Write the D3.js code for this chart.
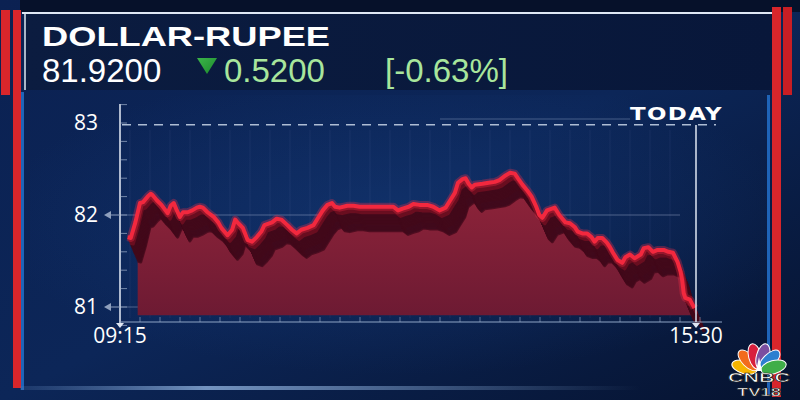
<!DOCTYPE html>
<html>
<head>
<meta charset="utf-8">
<script src="https://cdn.jsdelivr.net/npm/d3@7"></script>
<style>
  html, body { margin: 0; padding: 0; background: #071533; }
  svg { display: block; }
</style>
</head>
<body>
<div id="chart"></div>
<script>
// intraday USD/INR
const times = ["09:20","09:22","09:25","09:28","09:30","09:33","09:35","09:36","09:39","09:42",
  "09:46","09:48","09:50","09:52","09:54","09:56","09:59","10:02","10:05","10:07",
  "10:09","10:12","10:16","10:19","10:21","10:25","10:28","10:30","10:32","10:35",
  "10:38","10:41","10:44","10:47","10:49","10:54","10:57","11:00","11:04","11:07",
  "11:10","11:13","11:17","11:21","11:24","11:27","11:30","11:33","11:35","11:38",
  "11:43","11:47","11:51","11:56","12:00","12:04","12:09","12:13","12:16","12:19",
  "12:23","12:26","12:30","12:35","12:39","12:43","12:47","12:50","12:53","12:55",
  "12:58","13:00","13:02","13:04","13:06","13:11","13:15","13:19","13:22","13:26",
  "13:29","13:32","13:34","13:37","13:40","13:43","13:46","13:48","13:50","13:53",
  "13:58","14:01","14:05","14:08","14:11","14:13","14:16","14:19","14:22","14:24",
  "14:26","14:29","14:32","14:34","14:36","14:39","14:42","14:44","14:47","14:50",
  "14:54","14:56","14:59","15:02","15:05","15:09","15:12","15:15","15:18","15:20",
  "15:21","15:22","15:23","15:26","15:28","15:29"];
const rates = [81.76,81.75,81.92,82.13,82.14,82.20,82.23,82.22,82.16,82.11,
  82.02,82.10,82.13,82.05,81.98,82.03,82.03,82.05,82.08,82.09,
  82.08,82.03,81.98,81.92,81.86,81.78,81.84,81.95,81.91,81.86,
  81.73,81.71,81.76,81.82,81.89,81.92,81.96,81.95,81.89,81.84,
  81.80,81.84,81.86,81.89,81.97,82.05,82.11,82.13,82.09,82.08,
  82.10,82.10,82.09,82.09,82.09,82.09,82.09,82.09,82.05,82.07,
  82.09,82.12,82.11,82.11,82.09,82.05,82.08,82.16,82.24,82.35,
  82.39,82.40,82.34,82.30,82.33,82.34,82.35,82.36,82.38,82.43,
  82.46,82.45,82.40,82.33,82.27,82.20,82.09,82.00,81.97,82.05,
  82.08,82.00,81.92,81.91,81.87,81.82,81.80,81.80,81.76,81.71,
  81.75,81.75,81.70,81.65,81.59,81.51,81.48,81.54,81.57,81.53,
  81.57,81.64,81.65,81.60,81.62,81.62,81.60,81.59,81.49,81.38,
  81.29,81.15,81.10,81.08,81.02,80.99];

const yTicks = [81, 82, 83];
const xTicks = ["09:15", "15:30"];
const prevLevel = 82.98;     // dashed reference line
const areaBase = 80.91;

const title = "DOLLAR-RUPEE";
const lastPrice = "81.9200";
const change = "0.5200";
const changePct = "[-0.63%]";

const W = 800, H = 400;
const parseTime = d3.timeParse("%H:%M");
const data = times.map((t, i) => ({ t: parseTime(t), v: rates[i] }));

const svg = d3.select("#chart").append("svg")
  .attr("width", W).attr("height", H);
const defs = svg.append("defs");

// backgrounds
const bgGrad = defs.append("linearGradient").attr("id", "bg")
  .attr("x1", 0).attr("y1", 0).attr("x2", 1).attr("y2", 1);
bgGrad.append("stop").attr("offset", 0).attr("stop-color", "#0b2152");
bgGrad.append("stop").attr("offset", 0.5).attr("stop-color", "#0c2658");
bgGrad.append("stop").attr("offset", 1).attr("stop-color", "#061330");
svg.append("rect").attr("width", W).attr("height", H).attr("fill", "url(#bg)");

const glow = defs.append("radialGradient").attr("id", "glow")
  .attr("cx", 0.5).attr("cy", 0.45).attr("r", 0.55);
glow.append("stop").attr("offset", 0).attr("stop-color", "#153a78").attr("stop-opacity", 0.55);
glow.append("stop").attr("offset", 1).attr("stop-color", "#153a78").attr("stop-opacity", 0);
svg.append("rect").attr("x", 30).attr("y", 95).attr("width", 740).attr("height", 280)
  .attr("fill", "url(#glow)");

// header box
const hdrGrad = defs.append("linearGradient").attr("id", "hdr");
hdrGrad.append("stop").attr("offset", 0).attr("stop-color", "#0b1c40");
hdrGrad.append("stop").attr("offset", 1).attr("stop-color", "#08173a");
svg.append("rect").attr("x", 24).attr("y", 13).attr("width", 750).attr("height", 77)
  .attr("fill", "url(#hdr)");
svg.append("rect").attr("x", 20).attr("y", 0).attr("width", 780).attr("height", 12)
  .attr("fill", "#06112a");
svg.append("line").attr("x1", 22).attr("x2", 776).attr("y1", 13).attr("y2", 13)
  .attr("stroke", "#dfe8f5").attr("stroke-width", 2);
const lineGrad = defs.append("linearGradient").attr("id", "hline");
lineGrad.append("stop").attr("offset", 0).attr("stop-color", "#cdd8ea");
lineGrad.append("stop").attr("offset", 0.5).attr("stop-color", "#8fa6c8");
lineGrad.append("stop").attr("offset", 1).attr("stop-color", "#cdd8ea");
svg.append("line").attr("x1", 22).attr("x2", 776).attr("y1", 90).attr("y2", 90)
  .attr("stroke", "url(#hline)").attr("stroke-width", 1.5);
svg.append("line").attr("x1", 25).attr("x2", 25).attr("y1", 13).attr("y2", 90)
  .attr("stroke", "#dfe8f5").attr("stroke-width", 1.5);

// side bars
svg.append("rect").attr("x", 1).attr("y", 10).attr("width", 9).attr("height", 85).attr("fill", "#d8262b");
svg.append("rect").attr("x", 13).attr("y", 10).attr("width", 8).attr("height", 378).attr("fill", "#d8262b");
svg.append("rect").attr("x", 21).attr("y", 92).attr("width", 3).attr("height", 298).attr("fill", "#1f64b8");
svg.append("rect").attr("x", 772).attr("y", 7).attr("width", 9).attr("height", 390).attr("fill", "#d8262b");
svg.append("rect").attr("x", 783).attr("y", 7).attr("width", 9).attr("height", 88).attr("fill", "#c81e24");
svg.append("rect").attr("x", 767).attr("y", 95).attr("width", 3).attr("height", 300).attr("fill", "#1f64b8");

// bottom glow line
const botGrad = defs.append("linearGradient").attr("id", "bot");
botGrad.append("stop").attr("offset", 0).attr("stop-color", "#5a7fb5").attr("stop-opacity", 0.2);
botGrad.append("stop").attr("offset", 0.3).attr("stop-color", "#7fa0cc").attr("stop-opacity", 0.9);
botGrad.append("stop").attr("offset", 1).attr("stop-color", "#7fa0cc").attr("stop-opacity", 0);
svg.append("rect").attr("x", 20).attr("y", 386).attr("width", 620).attr("height", 4)
  .attr("fill", "url(#bot)");

// header text
svg.append("text").attr("x", 42).attr("y", 46)
  .attr("textLength", 288).attr("lengthAdjust", "spacingAndGlyphs")
  .style("font-family", "'Liberation Sans', Arial, sans-serif").style("font-weight", "bold")
  .style("font-size", "28px").style("fill", "#ffffff").text(title);
const numFont = "'Liberation Sans', Arial, sans-serif";
svg.append("text").attr("x", 42).attr("y", 82)
  .style("font-family", numFont).style("font-size", "33px")
  .style("fill", "#ffffff").text(lastPrice);
const triGrad = defs.append("linearGradient").attr("id", "tri")
  .attr("x1", 0).attr("y1", 0).attr("x2", 1).attr("y2", 1);
triGrad.append("stop").attr("offset", 0).attr("stop-color", "#3cb54a");
triGrad.append("stop").attr("offset", 1).attr("stop-color", "#1c8a2c");
svg.append("path").attr("d", "M197,58 L217,58 L207,74 Z").attr("fill", "url(#tri)");
svg.append("text").attr("x", 224).attr("y", 82)
  .style("font-family", numFont).style("font-size", "33px")
  .style("fill", "#a8e69c").text(change);
svg.append("text").attr("x", 385).attr("y", 82)
  .style("font-family", numFont).style("font-size", "33px")
  .style("fill", "#a8e69c").text(changePct);

// scales
const x = d3.scaleTime()
  .domain([parseTime(xTicks[0]), parseTime(xTicks[1])])
  .range([120, 696]);
const y = d3.scaleLinear().domain([81, 83]).range([307, 123]);

const plot = svg.append("g");

// faint grid
const gridX = d3.range(130, 690, 20);
plot.selectAll(".vgrid").data(gridX).join("line")
  .attr("x1", d => d).attr("x2", d => d).attr("y1", 130).attr("y2", 318)
  .attr("stroke", "#5f7fb0").attr("stroke-opacity", 0.12);

// horizontal reference lines
plot.selectAll(".hgrid").data(yTicks.slice(0, 2)).join("line")
  .attr("x1", 120).attr("x2", 680)
  .attr("y1", d => y(d)).attr("y2", d => y(d))
  .attr("stroke", "#9fb0cc").attr("stroke-opacity", 0.45).attr("stroke-width", 1);

// dashed line
plot.append("line").attr("x1", 122).attr("x2", 716)
  .attr("y1", y(prevLevel)).attr("y2", y(prevLevel))
  .attr("stroke", "#aebdd4").attr("stroke-width", 1.5).attr("stroke-dasharray", "9,7");

// faint line under TODAY
plot.append("line").attr("x1", 440).attr("x2", 630).attr("y1", 119).attr("y2", 119)
  .attr("stroke", "#7f94b8").attr("stroke-opacity", 0.5);

// area with 3D extrusion
const dx = 10, dy = 24;
const area = d3.area()
  .x(d => x(d.t) + dx)
  .y0(y(areaBase))
  .y1(d => Math.min(y(d.v) + dy, y(areaBase)));
const areaGrad = defs.append("linearGradient").attr("id", "areaFill")
  .attr("x1", 0).attr("y1", 0).attr("x2", 0).attr("y2", 1);
areaGrad.append("stop").attr("offset", 0).attr("stop-color", "#8c2339");
areaGrad.append("stop").attr("offset", 1).attr("stop-color", "#6d1a33");
plot.append("path").datum(data)
  .attr("fill", "url(#areaFill)")
  .attr("d", area);

const line = d3.line().x(d => x(d.t)).y(d => y(d.v));

const nSteps = 20;
const steps = d3.range(nSteps, 0, -1);
plot.selectAll(".extrude").data(steps).join("path")
  .datum(data)
  .attr("fill", "none")
  .attr("stroke", (d, i) => steps[i] < 6 ? "#6a0e20" : "#42091a")
  .attr("stroke-opacity", (d, i) => steps[i] > 14 ? 0.8 : 1)
  .attr("stroke-width", 3)
  .attr("stroke-linejoin", "round")
  .attr("transform", (d, i) => {
    const k = steps[i];
    return `translate(${k * dx / nSteps},${k * dy / nSteps})`;
  })
  .attr("d", line);

plot.append("path").datum(data)
  .attr("fill", "none")
  .attr("stroke", "#ff3048").attr("stroke-opacity", 0.3)
  .attr("stroke-width", 8).attr("stroke-linejoin", "round")
  .attr("d", line);
plot.append("path").datum(data)
  .attr("fill", "none")
  .attr("stroke", "#f2283e")
  .attr("stroke-width", 4).attr("stroke-linejoin", "round")
  .attr("d", line);

// axes
plot.append("line").attr("x1", 120).attr("x2", 120).attr("y1", 104).attr("y2", 323)
  .attr("stroke", "#e6edf7").attr("stroke-width", 1.5);
plot.append("line").attr("x1", 120).attr("x2", 722).attr("y1", 322).attr("y2", 322)
  .attr("stroke", "#8ea3c4").attr("stroke-width", 1.2);

const minorY = d3.range(80.8, 83.21, 0.2);
plot.selectAll(".ytick").data(minorY).join("line")
  .attr("x1", 121).attr("x2", 127)
  .attr("y1", d => y(d)).attr("y2", d => y(d))
  .attr("stroke", "#9fb0cc").attr("stroke-opacity", 0.7);

const minorX = d3.range(140, 720, 20);
plot.selectAll(".xtick").data(minorX).join("line")
  .attr("x1", d => d).attr("x2", d => d).attr("y1", 317).attr("y2", 322)
  .attr("stroke", "#9fb0cc").attr("stroke-opacity", 0.6);

// TODAY marker
plot.append("line").attr("x1", x(parseTime(xTicks[1]))).attr("x2", x(parseTime(xTicks[1])))
  .attr("y1", 125).attr("y2", 322)
  .attr("stroke", "#dfe7f3").attr("stroke-width", 1.5);
plot.append("text").attr("x", 630).attr("y", 120)
  .attr("textLength", 93).attr("lengthAdjust", "spacingAndGlyphs")
  .style("font-family", "'DejaVu Sans', sans-serif").style("font-weight", "bold")
  .style("font-size", "17px").style("letter-spacing", "1px")
  .style("fill", "#ffffff").text("TODAY");

// y labels
plot.selectAll(".ylab").data(yTicks).join("text")
  .attr("x", 98).attr("y", d => y(d) + 7).attr("text-anchor", "end")
  .style("font-family", "'Open Sans', sans-serif").style("font-size", "21px")
  .style("fill", "#ffffff").text(d => d);
plot.selectAll(".yarrow").data(yTicks.slice(0, 2)).join("path")
  .attr("d", d => `M104,${y(d)} L111,${y(d) - 4} L111,${y(d) + 4} Z`)
  .attr("fill", "#8fa0bd");
plot.selectAll(".ystub").data(yTicks.slice(0, 2)).join("line")
  .attr("x1", 111).attr("x2", 120).attr("y1", d => y(d)).attr("y2", d => y(d))
  .attr("stroke", "#8fa0bd");

// x labels
plot.selectAll(".xlab").data(xTicks).join("text")
  .attr("x", d => x(parseTime(d))).attr("y", 343).attr("text-anchor", "middle")
  .style("font-family", "'Open Sans', sans-serif").style("font-size", "21px")
  .style("fill", "#ffffff").text(d => d);
plot.selectAll(".xarrow").data(xTicks).join("path")
  .attr("d", d => {
    const px = x(parseTime(d));
    return `M${px - 4},323 L${px + 4},323 L${px},328 Z`;
  })
  .attr("fill", "#dfe7f3");

// CNBC TV18 logo
const logo = svg.append("g").attr("transform", "translate(759,371)");
const petalColors = ["#f5b400", "#f26b1d", "#d81f3c", "#7b4fa0", "#2d7fd0", "#3fae49"];
const petalAngles = [-75, -45, -15, 15, 45, 75];
logo.selectAll("ellipse").data(petalColors).join("ellipse")
  .attr("cx", 0).attr("cy", -15).attr("rx", 6.5).attr("ry", 13)
  .attr("transform", (d, i) => `rotate(${petalAngles[i]})`)
  .attr("fill", d => d).attr("stroke", "#ffffff").attr("stroke-width", 1);
logo.append("path").attr("d", "M-3,0 L0,-14 L3,0 Z").attr("fill", "#ffffff");
const logoFont = "'Liberation Sans', Arial, sans-serif";
svg.append("text").attr("x", 759).attr("y", 382).attr("text-anchor", "middle")
  .attr("textLength", 62).attr("lengthAdjust", "spacingAndGlyphs")
  .style("font-family", logoFont).style("font-weight", "bold")
  .style("font-size", "12px").style("fill", "#ffffff")
  .style("stroke", "#222").style("stroke-width", 0.6).text("CNBC");
svg.append("text").attr("x", 759).attr("y", 396).attr("text-anchor", "middle")
  .attr("textLength", 44).attr("lengthAdjust", "spacingAndGlyphs")
  .style("font-family", logoFont).style("font-weight", "bold")
  .style("font-size", "11px").style("fill", "#ffffff")
  .style("stroke", "#222").style("stroke-width", 0.6).text("TV18");
</script>
</body>
</html>
